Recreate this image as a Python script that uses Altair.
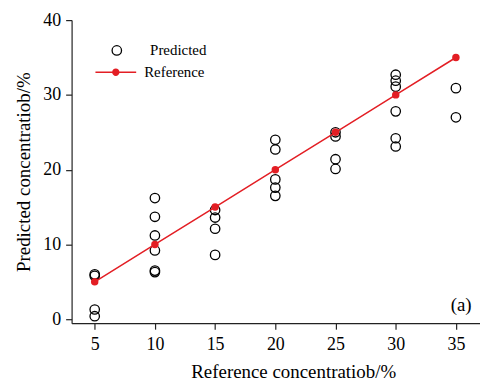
import altair as alt
import pandas as pd

# Predicted values
pred_x = [5, 5, 5, 5,
          10, 10, 10, 10, 10, 10,
          15, 15, 15, 15,
          20, 20, 20, 20, 20,
          25, 25, 25, 25,
          30, 30, 30, 30, 30, 30,
          35, 35]
pred_y = [6.0, 5.8, 1.3, 0.4,
          16.2, 13.7, 11.2, 9.2, 6.5, 6.3,
          14.6, 13.6, 12.1, 8.6,
          24.0, 22.7, 18.7, 17.6, 16.5,
          25.0, 24.45, 21.4, 20.1,
          32.7, 31.9, 31.1, 27.8, 24.2, 23.1,
          30.9, 27.0]

ref_x = [5, 10, 15, 20, 25, 30, 35]
ref_y = [5, 10, 15, 20, 25, 30, 35]

x_ticks = [5, 10, 15, 20, 25, 30, 35]
y_ticks = [0, 5, 10, 15, 20, 25, 30, 35, 40]

RED = "#e31e24"
FONT = "Liberation Serif"

pred_df = pd.DataFrame({"x": pred_x, "y": pred_y, "p": "Predicted"})
ref_df = pd.DataFrame({"x": ref_x, "y": ref_y, "r": "Reference"})

xs = alt.Scale(domain=[3.08, 37.0], nice=False, zero=False)
ys = alt.Scale(domain=[-0.53, 40], nice=False, zero=False)

x_axis = alt.Axis(values=x_ticks, title="Reference concentratiob/%", grid=False,
                  tickSize=6, labelPadding=6, titlePadding=10, titleX=223)
y_axis = alt.Axis(values=y_ticks, title="Predicted concentratiob/%", grid=False,
                  tickSize=6, labelPadding=5, titlePadding=9)

pred = alt.Chart(pred_df).mark_point(filled=False, size=90, strokeWidth=1.3, color="black", opacity=1).encode(
    x=alt.X("x:Q", scale=xs, axis=x_axis),
    y=alt.Y("y:Q", scale=ys, axis=y_axis),
    shape=alt.Shape("p:N", scale=alt.Scale(domain=["Predicted"], range=["circle"]),
                    legend=alt.Legend(title=None, orient="none", legendX=38, legendY=23,
                                      labelOffset=26, symbolStrokeColor="black",
                                      symbolStrokeWidth=1.3, symbolSize=90)),
)

line = alt.Chart(ref_df).mark_line(color=RED, strokeWidth=1.5).encode(
    x=alt.X("x:Q", scale=xs),
    y=alt.Y("y:Q", scale=ys),
)

legend_path = ("M-1,-0.037H1V0.037H-1Z "
               "M0.18,0A0.18,0.18,0,1,1,-0.18,0A0.18,0.18,0,1,1,0.18,0Z")

ref_pts = alt.Chart(ref_df).mark_point(filled=True, size=56, opacity=1).encode(
    x=alt.X("x:Q", scale=xs),
    y=alt.Y("y:Q", scale=ys),
    color=alt.Color("r:N", scale=alt.Scale(domain=["Reference"], range=[RED]),
                    legend=alt.Legend(title=None, orient="none", legendX=24, legendY=32,
                                      labelOffset=8, symbolType=legend_path,
                                      symbolSize=1681, symbolStrokeWidth=0,
                                      symbolFillColor=RED)),
)

label = alt.Chart(pd.DataFrame({"t": ["(a)"]})).mark_text(
    font=FONT, fontSize=19, color="black", align="center", baseline="middle"
).encode(x=alt.value(392), y=alt.value(287), text="t:N")

chart = alt.layer(pred, line, ref_pts, label).resolve_legend(
    shape="independent", color="independent"
).properties(
    width=411, height=305,
    autosize=alt.AutoSizeParams(type="none"),
    padding={"left": 64, "top": 11, "right": 0, "bottom": 58},
    background="white",
).configure_view(stroke=None).configure_axis(
    domainColor="#222", tickColor="#222", domainWidth=1.2, tickWidth=1.2,
    labelFont=FONT, titleFont=FONT, labelFontSize=18, titleFontSize=19,
    labelColor="black", titleColor="black", titleFontWeight="normal",
).configure_axisX(domainCap="butt").configure_legend(
    labelFont=FONT, labelFontSize=15, labelColor="black", padding=0, rowPadding=6,
)

chart.save("out.html", embed_options={"renderer": "svg", "actions": False})
